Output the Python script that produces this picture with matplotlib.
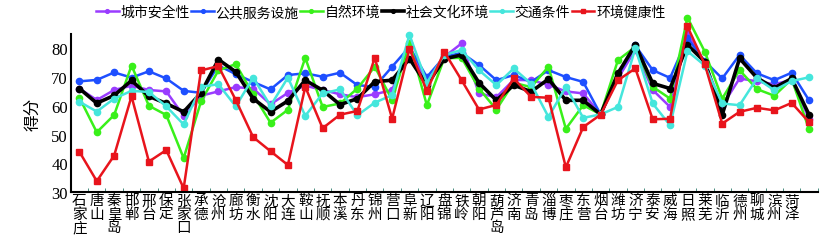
import numpy as np
import matplotlib

matplotlib.use('Agg')
import matplotlib.pyplot as plt
from matplotlib.ticker import FixedLocator, NullFormatter

plt.rcParams['font.family'] = ['Noto Sans CJK SC', 'DejaVu Sans']

# cities on the x axis (the chart has one more point than labels)
cities = ["石家庄", "唐山", "秦皇岛", "邯郸", "邢台", "保定", "张家口", "承德", "沧州", "廊坊",
          "衡水", "沈阳", "大连", "鞍山", "抚顺", "本溪", "丹东", "锦州", "营口", "阜新",
          "辽阳", "盘锦", "铁岭", "朝阳", "葫芦岛", "济南", "青岛", "淄博", "枣庄", "东营",
          "烟台", "潍坊", "济宁", "泰安", "威海", "日照", "莱芜", "临沂", "德州", "聊城",
          "滨州", "菏泽", ""]

city_safety = [66, 62, 65.5, 67, 65.5, 65, 56.5, 63.5, 65, 66.5,
               66, 60.5, 64.5, 67, 65.5, 64, 63, 64, 65.5, 80,
               68, 77, 81.7, 64.3, 63, 69, 68.9, 67.3, 65, 64.3,
               57, 69.5, 79.5, 65.5, 59.6, 85, 75, 60, 69.5, 68.5,
               67.5, 69, 55.5]
public_service = [68.5, 69, 71.6, 69.8, 72, 69.5, 65.2, 64.5, 74, 71,
                  68.3, 65.7, 70.7, 71.3, 70.1, 71.5, 67.2, 66.6, 73.6, 80.5,
                  70, 77, 78.4, 74.2, 68.9, 70.7, 68.3, 72.4, 70, 68.3,
                  57, 70.5, 81, 72.4, 69.7, 83.5, 75.5, 69.5, 77.7, 71.3,
                  68.9, 71.5, 61.9]
nature = [62.8, 50.8, 56.8, 74, 60, 56.8, 41.8, 61.5, 72.3, 74.5,
          64, 54.1, 58.6, 76.7, 59.6, 60.8, 66, 73.6, 62, 82,
          60.2, 76.5, 76.7, 66, 58.7, 68, 66.5, 73.6, 52, 60.2,
          57, 75.9, 80.5, 66.6, 62.5, 90.7, 78.8, 62.5, 72.4, 65.8,
          63.5, 69.3, 51.8]
social_culture = [66, 60.9, 63.6, 68.8, 63.3, 60.8, 57.9, 64.5, 76.1, 71.8,
                  62.5, 57.9, 61.7, 68.9, 65.4, 60.4, 62.5, 68.4, 68.9, 76.4,
                  67.2, 76.3, 77.7, 68, 61.9, 67.2, 64.9, 69.3, 61.9, 61.9,
                  57, 71.3, 81.2, 67.8, 66, 81.2, 75.3, 56.9, 76.5, 69.7,
                  66.2, 69.5, 56.9]
traffic = [61.4, 58, 62.5, 65.2, 64.8, 59.8, 53.5, 66.6, 67.5, 59.8,
           69.8, 60, 69.8, 56.5, 64.3, 65.7, 56.7, 61.1, 63.7, 84.7,
           68, 77.7, 79.4, 72.4, 67.2, 73, 67.7, 56.1, 66.6, 55.8,
           57, 59.6, 80, 60.8, 53.2, 79, 74, 60.8, 60.2, 69.5,
           65.4, 68.6, 69.9]
env_health = [44, 33.8, 42.7, 63.3, 40.6, 44.6, 31.3, 72.3, 73.8, 62,
              49.1, 44.2, 39.4, 66.6, 52.2, 56.9, 58.2, 76.7, 55.5, 79.8,
              65.2, 78.8, 68.9, 58.7, 60.3, 69.5, 63.1, 62.8, 38.6, 52.6,
              56.9, 68.9, 73, 55.3, 55.5, 87.6, 74.4, 53.8, 57.9, 59.3,
              58.4, 61, 54.3]

series = [
    ("城市安全性", city_safety, "#9a3cff", "o", 1.8),
    ("公共服务设施", public_service, "#1e4fff", "o", 1.8),
    ("自然环境", nature, "#39f01a", "o", 1.8),
    ("社会文化环境", social_culture, "#000000", "o", 2.6),
    ("交通条件", traffic, "#45e6dc", "o", 1.8),
    ("环境健康性", env_health, "#e8141c", "s", 1.8),
]

fig = plt.figure(figsize=(8.37, 2.53), dpi=100)
ax = fig.add_axes([0.0845, 0.237, 0.8925, 0.625])

x = np.arange(len(cities))
for name, vals, color, mk, lw in series:
    ax.plot(x, vals, color=color, lw=lw, marker=mk, markersize=4.5,
            label=name, clip_on=False)

ax.set_xlim(-0.5, len(cities) - 0.5)
ax.set_ylim(30, 85)
ax.set_yticks([30, 40, 50, 60, 70, 80])
for lab in ax.get_yticklabels():
    lab.set_fontfamily('Liberation Serif')
    lab.set_fontsize(12)
ax.tick_params(axis='y', length=0, pad=2)

ax.set_xticks(x)
ax.set_xticklabels(["\n".join(c) for c in cities], fontsize=10.5,
                   linespacing=0.95, va='top')
ax.tick_params(axis='x', length=0, pad=1)
ax.xaxis.set_minor_locator(FixedLocator(np.arange(-0.5, len(cities), 1.0)))
ax.xaxis.set_minor_formatter(NullFormatter())
ax.tick_params(axis='x', which='minor', direction='in', length=3, color='#2a7a6a')

ax.spines['top'].set_visible(False)
ax.spines['right'].set_visible(False)
ax.spines['left'].set_linewidth(1.5)
ax.spines['bottom'].set_linewidth(1.5)

ax.set_ylabel("得分", fontsize=12, labelpad=7)

fig.legend(loc='center', bbox_to_anchor=(0.455, 0.948), ncol=6, frameon=False,
           fontsize=10, handlelength=1.6, handletextpad=0.15, columnspacing=0.1,
           borderaxespad=0, markerscale=0.6)

plt.savefig("out.png", dpi=100)
plt.close()
